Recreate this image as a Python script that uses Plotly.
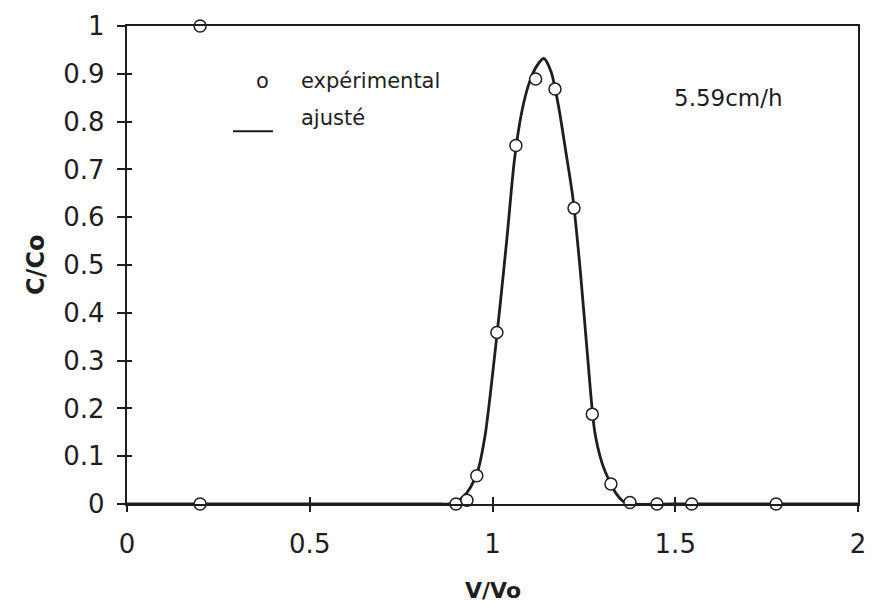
import plotly.graph_objects as go

exp_x = [0.2, 0.2, 0.9, 0.93, 0.957, 1.012, 1.064, 1.118, 1.171, 1.223, 1.273,
         1.324, 1.376, 1.45, 1.545, 1.776]
exp_y = [1.0, 0.0, 0.0, 0.008, 0.059, 0.359, 0.75, 0.889, 0.868, 0.619, 0.188,
         0.042, 0.003, 0.0, 0.0, 0.0]

# courbe ajustee
fit_x = [0.0, 0.5, 0.86, 0.88, 0.90, 0.92, 0.94, 0.96, 0.98, 1.00, 1.02, 1.04,
         1.06, 1.08, 1.10, 1.12, 1.14, 1.16, 1.18, 1.20, 1.22, 1.24, 1.26,
         1.28, 1.30, 1.32, 1.34, 1.36, 1.38, 1.5, 2.0]
fit_y = [0.0, 0.0, 0.0, 0.0, 0.004, 0.015, 0.035, 0.07, 0.145, 0.27, 0.41, 0.56,
         0.72, 0.82, 0.88, 0.915, 0.932, 0.905, 0.835, 0.74, 0.64, 0.49, 0.31,
         0.15, 0.085, 0.048, 0.02, 0.004, 0.0, 0.0, 0.0]

x_ticks = [0, 0.5, 1, 1.5, 2]
x_labels = ["0", "0.5", "1", "1.5", "2"]
y_ticks = [0, 0.1, 0.2, 0.3, 0.4, 0.5, 0.6, 0.7, 0.8, 0.9, 1]
y_labels = ["0", "0.1", "0.2", "0.3", "0.4", "0.5", "0.6", "0.7", "0.8", "0.9", "1"]

INK = "#1e1e1e"
FONT = "DejaVu Sans"

fig = go.Figure()
fig.add_trace(go.Scatter(
    x=fit_x, y=fit_y, mode="lines",
    line={"color": INK, "width": 2.8, "shape": "spline", "smoothing": 0.8},
    cliponaxis=False, showlegend=False,
))
fig.add_trace(go.Scatter(
    x=exp_x, y=exp_y, mode="markers", xaxis="x2", yaxis="y2",
    marker={"symbol": "circle", "size": 12, "color": "white",
            "line": {"color": INK, "width": 1.5}},
    cliponaxis=False, showlegend=False,
))

axis_common = {"showgrid": False, "zeroline": False, "automargin": False}
# la page html a une marge de 8 px : la figure fait 867x598
fig.update_layout(
    width=867, height=598,
    paper_bgcolor="white", plot_bgcolor="white",
    margin={"l": 119, "r": 17, "t": 18, "b": 102, "pad": 0},
    font={"family": FONT, "color": INK},
    xaxis={**axis_common, "range": [0, 2], "tickvals": x_ticks, "ticktext": x_labels,
           "ticks": "outside", "ticklen": 6, "tickwidth": 1.5, "tickcolor": INK,
           "showline": True, "linewidth": 2.4, "linecolor": INK, "mirror": True,
           "ticklabelstandoff": 10,
           "tickfont": {"size": 26, "family": FONT, "color": INK}},
    yaxis={**axis_common, "range": [0, 1], "tickvals": y_ticks, "ticktext": y_labels,
           "ticks": "outside", "ticklen": 8, "tickwidth": 1.5, "tickcolor": INK,
           "showline": True, "linewidth": 2.4, "linecolor": INK, "mirror": True,
           "ticklabelstandoff": 7,
           "tickfont": {"size": 26, "family": FONT, "color": INK}},
    xaxis2={**axis_common, "range": [0, 2], "overlaying": "x", "anchor": "y2",
            "tickvals": x_ticks, "ticks": "inside", "ticklen": 7, "tickwidth": 1.5,
            "tickcolor": INK, "showticklabels": False, "showline": False},
    yaxis2={**axis_common, "range": [0, 1], "overlaying": "y", "anchor": "x2",
            "tickvals": y_ticks, "ticks": "inside", "ticklen": 5, "tickwidth": 1.5,
            "tickcolor": INK, "showticklabels": False, "showline": False},
)

ann = [
    ("<b>C/Co</b>", -0.1245, 0.5, "center", 24, -90),
    ("<b>V/Vo</b>", 0.5, -0.182, "center", 22, 0),
    ("o", 0.186, 0.885, "center", 21, 0),
    ("expérimental", 0.2353, 0.885, "left", 21, 0),
    ("ajusté", 0.2353, 0.808, "left", 21, 0),
    ("5.59cm/h", 0.745, 0.85, "left", 23, 0),
]
for text, x, y, xa, size, angle in ann:
    fig.add_annotation(text=text, x=x, y=y, xref="paper", yref="paper",
                       xanchor=xa, yanchor="middle", showarrow=False,
                       textangle=angle, font={"size": size, "family": FONT, "color": INK})

# trait de la legende "ajusté"
fig.add_shape(type="line", xref="paper", yref="paper",
              x0=0.145, x1=0.1997, y0=0.780, y1=0.780,
              line={"color": INK, "width": 2})

fig.write_html("out.html")
